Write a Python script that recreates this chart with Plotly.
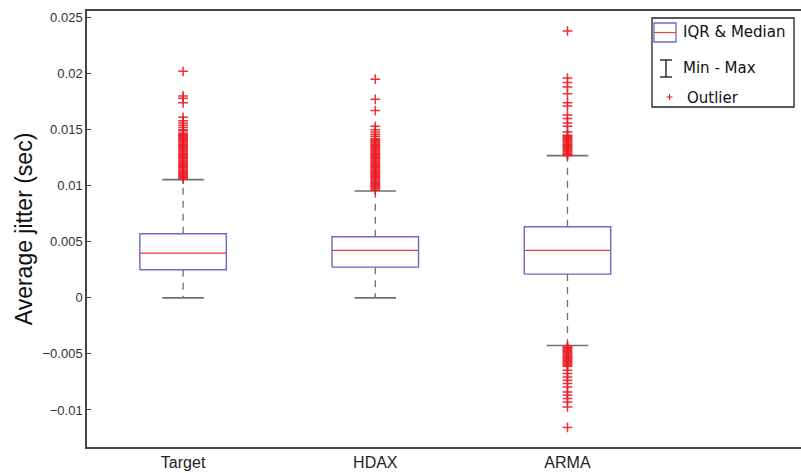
import plotly.graph_objects as go

# ---- data -------------------------------------------------------------
groups = ["Target", "HDAX", "ARMA"]
positions = [1, 2, 3]
q1 = [0.00250, 0.00274, 0.00212]
median = [0.00399, 0.00423, 0.00423]
q3 = [0.00571, 0.00545, 0.00634]
whisker_low = [0.0, 0.0, -0.00425]
whisker_high = [0.01054, 0.00953, 0.01268]

target_outliers = [
    0.0202, 0.0180, 0.0178, 0.0174, 0.0161, 0.0158, 0.0156, 0.0154, 0.0152,
    0.0150, 0.0149, 0.0147, 0.0146, 0.0145, 0.0144, 0.0143, 0.0142, 0.0141,
    0.0140, 0.0139, 0.0138, 0.0137, 0.0136, 0.0135, 0.0134, 0.0133, 0.0132,
    0.0131, 0.0130, 0.0129, 0.0128, 0.0127, 0.0126, 0.0125, 0.0124, 0.0123,
    0.0122, 0.0121, 0.0120, 0.0119, 0.0118, 0.0117, 0.0116, 0.0115, 0.0114,
    0.0113, 0.0112, 0.0111, 0.0110, 0.0109, 0.0108, 0.0107, 0.0106,
]
hdax_outliers = [
    0.0195, 0.0177, 0.0167, 0.0153, 0.0150, 0.0148, 0.0146, 0.0144, 0.0142,
    0.0141, 0.0140, 0.0139, 0.0138, 0.0137, 0.0136, 0.0135, 0.0134, 0.0133,
    0.0132, 0.0131, 0.0130, 0.0129, 0.0128, 0.0127, 0.0126, 0.0125, 0.0124,
    0.0123, 0.0122, 0.0121, 0.0120, 0.0119, 0.0118, 0.0117, 0.0116, 0.0115,
    0.0114, 0.0113, 0.0112, 0.0111, 0.0110, 0.0109, 0.0108, 0.0107, 0.0106,
    0.0105, 0.0104, 0.0103, 0.0102, 0.0101, 0.0100, 0.0099, 0.0098, 0.0097,
    0.0096,
]
arma_outliers = [
    0.0238, 0.0196, 0.0192, 0.0188, 0.0182, 0.0174, 0.0171, 0.0163, 0.0160,
    0.0156, 0.0153, 0.0148, 0.0145, 0.0144, 0.0143, 0.0142, 0.0141, 0.0140,
    0.0139, 0.0138, 0.0137, 0.0136, 0.0135, 0.0134, 0.0133, 0.0132, 0.0131,
    0.0130, 0.0129, 0.0128, 0.0127,
    -0.0043, -0.0044, -0.0045, -0.0046, -0.0047, -0.0048, -0.0049, -0.0050,
    -0.0051, -0.0052, -0.0053, -0.0054, -0.0055, -0.0056, -0.0057, -0.0058,
    -0.0059, -0.0060, -0.0061, -0.00645, -0.00675, -0.00705, -0.00734,
    -0.00764, -0.00794, -0.00839, -0.00868, -0.00898, -0.00928, -0.00973,
    -0.01155,
]
outliers = [target_outliers, hdax_outliers, arma_outliers]

y_ticks = [-0.01, -0.005, 0, 0.005, 0.01, 0.015, 0.02, 0.025]
y_tick_text = ["\u22120.01", "\u22120.005", "0", "0.005", "0.01", "0.015", "0.02", "0.025"]

# ---- styling ----------------------------------------------------------
BOX_HALF = 0.225
CAP_HALF = 0.108
BOX_COLOR = "#6a6ac4"
MED_COLOR = "#f03a3a"
WHISK_COLOR = "#707070"
OUT_COLOR = "#ec1c24"

fig = go.Figure()

for pos, a, m, b, lo, hi, outs in zip(positions, q1, median, q3,
                                        whisker_low, whisker_high, outliers):
    # dashed whiskers
    fig.add_trace(go.Scatter(
        x=[pos, pos, None, pos, pos], y=[b, hi, None, a, lo],
        mode="lines", line=dict(color=WHISK_COLOR, width=1.3, dash="7px,6px"),
        hoverinfo="skip", showlegend=False))
    # whisker caps
    fig.add_trace(go.Scatter(
        x=[pos - CAP_HALF, pos + CAP_HALF, None, pos - CAP_HALF, pos + CAP_HALF],
        y=[hi, hi, None, lo, lo],
        mode="lines", line=dict(color=WHISK_COLOR, width=1.6),
        hoverinfo="skip", showlegend=False))
    # IQR box
    fig.add_trace(go.Scatter(
        x=[pos - BOX_HALF, pos + BOX_HALF, pos + BOX_HALF, pos - BOX_HALF, pos - BOX_HALF],
        y=[a, a, b, b, a],
        mode="lines", line=dict(color=BOX_COLOR, width=1.4),
        hoverinfo="skip", showlegend=False))
    # median
    fig.add_trace(go.Scatter(
        x=[pos - BOX_HALF, pos + BOX_HALF], y=[m, m],
        mode="lines", line=dict(color=MED_COLOR, width=1.2),
        hoverinfo="skip", showlegend=False))
    # outliers
    fig.add_trace(go.Scatter(
        x=[pos] * len(outs), y=outs, mode="markers",
        marker=dict(symbol="cross-thin", size=7, opacity=0.9,
                    line=dict(color=OUT_COLOR, width=1.5)),
        hoverinfo="skip", showlegend=False))

# ---- custom legend (pixel helpers -> paper coords) ---------------------
L, R, T, B = 87, 801, 11, 447
def px(x):
    return (x - L) / (R - L)
def py(y):
    return (B - y) / (B - T)

shapes = [
    dict(type="rect", xref="paper", yref="paper", x0=px(652), x1=px(794),
         y0=py(107), y1=py(18), line=dict(color="#222", width=1.3),
         fillcolor="white", layer="above"),
    dict(type="rect", xref="paper", yref="paper", x0=px(654), x1=px(676),
         y0=py(42), y1=py(23), line=dict(color=BOX_COLOR, width=1.3), layer="above"),
    dict(type="line", xref="paper", yref="paper", x0=px(654), x1=px(676),
         y0=py(32.5), y1=py(32.5), line=dict(color=MED_COLOR, width=1.2), layer="above"),
    dict(type="line", xref="paper", yref="paper", x0=px(666), x1=px(666),
         y0=py(60), y1=py(77), line=dict(color="#111", width=1.3), layer="above"),
    dict(type="line", xref="paper", yref="paper", x0=px(660), x1=px(672),
         y0=py(60), y1=py(60), line=dict(color="#111", width=1.3), layer="above"),
    dict(type="line", xref="paper", yref="paper", x0=px(660), x1=px(672),
         y0=py(77), y1=py(77), line=dict(color="#111", width=1.3), layer="above"),
    dict(type="line", xref="paper", yref="paper", x0=px(666.5), x1=px(672.5),
         y0=py(97), y1=py(97), line=dict(color=OUT_COLOR, width=1.1), layer="above"),
    dict(type="line", xref="paper", yref="paper", x0=px(669.5), x1=px(669.5),
         y0=py(94), y1=py(100), line=dict(color=OUT_COLOR, width=1.1), layer="above"),
]

legend_font = dict(family="DejaVu Sans", size=15, color="#111")
annotations = [
    dict(text="IQR & Median", x=px(681), y=py(32), xref="paper", yref="paper",
         xanchor="left", yanchor="middle", showarrow=False, font=legend_font),
    dict(text="Min - Max", x=px(681), y=py(68), xref="paper", yref="paper",
         xanchor="left", yanchor="middle", showarrow=False, font=legend_font),
    dict(text="Outlier", x=px(685), y=py(98), xref="paper", yref="paper",
         xanchor="left", yanchor="middle", showarrow=False, font=legend_font),
]

fig.update_layout(
    width=801, height=473,
    margin=dict(l=L, r=801 - R, t=T, b=473 - B),
    paper_bgcolor="white", plot_bgcolor="white",
    shapes=shapes, annotations=annotations,
    showlegend=False,
    xaxis=dict(
        range=[0.5, 4.215], tickmode="array", tickvals=positions, ticktext=groups,
        showgrid=False, zeroline=False, showline=True, mirror=True,
        linecolor="#444", linewidth=1.5, ticks="",
        tickfont=dict(family="Liberation Sans", size=16, color="#222"),
    ),
    yaxis=dict(
        range=[-0.0133, 0.02558], tickmode="array", tickvals=y_ticks,
        ticktext=y_tick_text, showgrid=False, zeroline=False, showline=True,
        mirror=False, linecolor="#444", linewidth=1.5,
        ticks="inside", ticklen=4, tickcolor="#444",
        tickfont=dict(family="Liberation Sans", size=13, color="#333"),
        title=dict(text="Average jitter (sec)", standoff=3,
                   font=dict(family="Liberation Sans", size=23, color="#111")),
    ),
)

fig.write_html("out.html")
